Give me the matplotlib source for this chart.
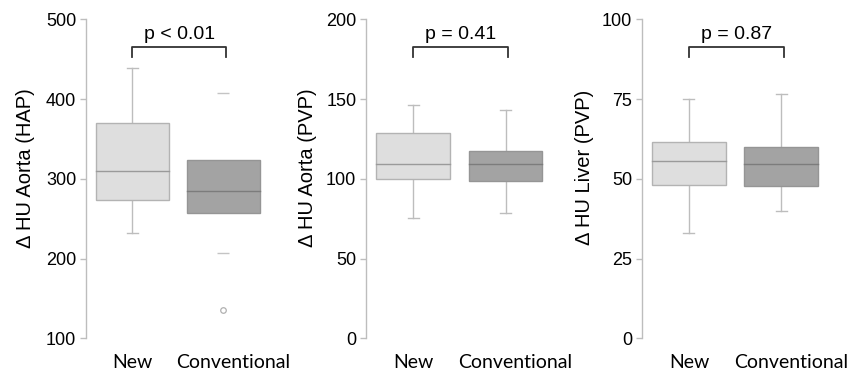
import matplotlib
matplotlib.use("Agg")
import matplotlib.pyplot as plt
from matplotlib.transforms import ScaledTranslation, blended_transform_factory

# box stats: [whisker low, q1, median, q3, whisker high]; None = no whisker
categories = ["New", "Conventional"]

hap_new = [232, 274, 309.5, 370.5, 439]
hap_conv = [None, 256.5, 285, 323, None]
hap_conv_far = [407, 207]      # drawn as short dashes
hap_conv_out = [135]           # drawn as open circle

pvp_aorta_new = [75.5, 100, 109.5, 128.5, 146.5]
pvp_aorta_conv = [78.5, 98.5, 109.5, 117.5, 143]

pvp_liver_new = [33, 48, 55.5, 61.5, 75]
pvp_liver_conv = [40, 47.8, 54.5, 60, 76.5]

ylabels = ["\u0394 HU Aorta (HAP)", "\u0394 HU Aorta (PVP)", "\u0394 HU Liver (PVP)"]
yticks = [[100, 200, 300, 400, 500], [0, 50, 100, 150, 200], [0, 25, 50, 75, 100]]
pvalues = ["p < 0.01", "p = 0.41", "p = 0.87"]

panels = [(hap_new, hap_conv), (pvp_aorta_new, pvp_aorta_conv), (pvp_liver_new, pvp_liver_conv)]

W, H = 848, 372
fig = plt.figure(figsize=(W / 100, H / 100), dpi=100)

lefts = [86, 366, 642]
spacing = [91, 92.4, 92.1]
label_xy = [(-0.33, 0.535), (-0.315, 0.535), (-0.307, 0.535)]
bot, top = 338.3, 19.3

fills = ["#dedede", "#a3a3a3"]
edges = ["#b3b3b3", "#959595"]
medians = ["#9a9a9a", "#7c7c7c"]
light = "#bdbdbd"

arial = "Liberation Sans"

for i, (ax_data, lab, ticks, ptxt) in enumerate(zip(panels, ylabels, yticks, pvalues)):
    w = 2.02 * spacing[i]
    ax = fig.add_axes([lefts[i] / W, 1 - bot / H, w / W, (bot - top) / H])
    ax.set_xlim(0.49, 2.51)
    ax.set_ylim(ticks[0], ticks[-1])

    for j, st in enumerate(ax_data):
        lo, q1, med, q3, hi = st
        pos = j + 1
        bw = 0.8
        ax.add_patch(plt.Rectangle((pos - bw / 2, q1), bw, q3 - q1,
                                   facecolor=fills[j], edgecolor=edges[j], lw=1.0, zorder=2))
        ax.plot([pos - bw / 2, pos + bw / 2], [med, med], color=medians[j], lw=1.0, zorder=3)
        cw = 0.06
        if lo is not None:
            ax.plot([pos, pos], [lo, q1], color=light, lw=1.0, zorder=1)
            ax.plot([pos - cw, pos + cw], [lo, lo], color=light, lw=1.0, zorder=1)
        if hi is not None:
            ax.plot([pos, pos], [q3, hi], color=light, lw=1.0, zorder=1)
            ax.plot([pos - cw, pos + cw], [hi, hi], color=light, lw=1.0, zorder=1)

    if i == 0:
        ax.plot([2] * len(hap_conv_far), hap_conv_far, ls="none", marker="_",
                ms=8, mew=1.0, color="#c4c4c4")
        ax.plot([2] * len(hap_conv_out), hap_conv_out, ls="none", marker="o",
                ms=4, mfc="white", mec="#b0b0b0", mew=0.9)

    # significance bracket
    tr = blended_transform_factory(ax.transData, ax.transAxes)
    yb0, yb1 = (bot - 57.3) / (bot - top), (bot - 46.7) / (bot - top)
    ax.plot([1.0, 1.0, 2.03, 2.03], [yb0, yb1, yb1, yb0], color="#333333", lw=1.3,
            transform=tr, clip_on=False)
    ax.text(1.515, (bot - 39.3) / (bot - top), ptxt, transform=tr, ha="center",
            va="baseline", fontsize=14, family=arial)

    for s in ["top", "right", "bottom"]:
        ax.spines[s].set_visible(False)
    ax.spines["left"].set_color(light)
    ax.spines["left"].set_linewidth(1.0)

    ax.set_yticks(ticks)
    ax.set_yticklabels([str(t) for t in ticks], family=arial, fontsize=13)
    ax.tick_params(axis="y", length=4, width=1, color=light, pad=3)
    ax.set_xticks([1, 2])
    ax.set_xticklabels(categories, family="Lato", fontsize=14)
    ax.tick_params(axis="x", length=0, pad=11)
    off = ScaledTranslation(10 / 100, 0, fig.dpi_scale_trans)
    lbl = ax.get_xticklabels()[1]
    lbl.set_transform(lbl.get_transform() + off)

    ax.set_ylabel(lab, family=arial, fontsize=14.5, va="center")
    ax.yaxis.set_label_coords(*label_xy[i])

fig.savefig("out.png", dpi=100)
